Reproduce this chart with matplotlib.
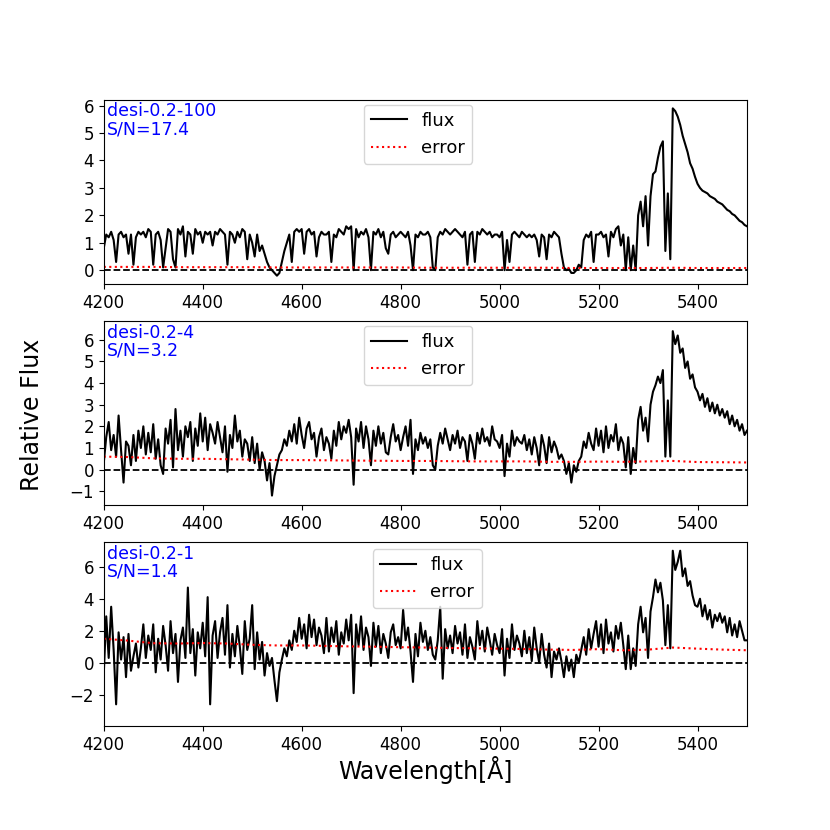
import numpy as np
import matplotlib
matplotlib.use("Agg")
import matplotlib.pyplot as plt
from matplotlib.ticker import MultipleLocator

# wavelength grids (flux sampled every 5 A, error every 50 A)
wave = np.arange(4200, 5501, 5)
wave_err = np.arange(4200, 5501, 50)

labels = ["desi-0.2-100", "desi-0.2-4", "desi-0.2-1"]
snr = ["17.4", "3.2", "1.4"]

flux_100 = [
    0.8, 1.3, 1.2, 1.4, 1.1, 0.3, 1.3, 1.4, 1.2, 1.3,
    0.6, 1.3, 0.2, 1.2, 1.4, 1.3, 1.4, 1.2, 1.5, 1.4,
    0.2, 1.3, 1.4, 1.1, 0.1, 0.8, 1.5, 1.4, 0.4, 0.1,
    1.5, 1.3, 1.6, 0.5, 1.4, 1.3, 0.6, 1.5, 1.3, 1.4,
    1.0, 1.4, 1.3, 1.4, 0.9, 1.4, 1.3, 1.5, 1.4, 1.3,
    0.2, 1.4, 1.3, 1.0, 1.4, 1.2, 1.5, 1.4, 0.4, 1.3,
    1.0, 0.5, 1.3, 0.7, 0.9, 0.6, 0.3, 0.1, 0.0, -0.1,
    -0.2, -0.1, 0.3, 0.7, 1.0, 1.3, 0.3, 1.4, 1.5, 1.4,
    1.5, 0.6, 1.4, 1.5, 1.3, 1.4, 0.5, 1.2, 1.4, 1.3,
    1.3, 1.4, 0.3, 1.3, 1.2, 1.5, 1.4, 1.3, 1.6, 1.5,
    1.6, 0.0, 1.5, 1.2, 1.4, 1.3, 1.5, 1.2, 0.0, 1.4,
    1.3, 1.5, 1.2, 1.4, 0.8, 0.6, 1.3, 1.4, 1.2, 1.3,
    1.4, 1.3, 1.2, 1.4, 0.9, 0.0, 1.3, 1.2, 1.4, 1.3,
    1.3, 1.4, 1.2, 0.1, 0.0, 1.2, 1.4, 1.3, 1.5, 1.4,
    1.3, 1.4, 1.5, 1.4, 1.3, 1.2, 1.4, 0.2, 1.3, 1.4,
    0.3, 1.4, 1.3, 1.5, 1.4, 1.3, 1.4, 1.2, 1.3, 1.3,
    1.2, 1.4, 0.0, 1.1, 0.3, 1.3, 1.4, 1.3, 1.2, 1.4,
    1.3, 1.2, 1.3, 1.2, 1.3, 1.1, 0.5, 1.3, 1.2, 0.4,
    1.3, 1.2, 1.4, 1.3, 1.2, 0.6, 0.1, 0.0, 0.05, -0.1,
    -0.1, 0.0, 0.2, 0.1, 1.1, 1.3, 1.2, 1.4, 0.3, 1.3,
    1.3, 1.4, 1.2, 1.3, 0.5, 1.4, 1.2, 1.5, 1.6, 0.9,
    1.3, 0.0, 1.2, 0.0, 0.9, 0.0, 2.0, 2.5, 1.6, 2.7,
    0.9, 2.7, 3.5, 3.6, 4.1, 4.5, 4.7, 0.7, 2.8, 0.4,
    5.9, 5.8, 5.6, 5.3, 4.9, 4.6, 4.3, 3.9, 3.7, 3.4,
    3.15, 3.0, 2.9, 2.85, 2.8, 2.7, 2.65, 2.6, 2.5, 2.45,
    2.4, 2.3, 2.2, 2.15, 2.05, 2.0, 1.9, 1.8, 1.75, 1.65,
    1.6,
]

flux_4 = [
    0.3, 1.5, 2.2, 0.9, 1.6, 0.6, 2.5, 0.9, -0.6, 1.3,
    1.1, 0.2, 1.6, 0.4, 1.8, 1.0, 2.0, 0.7, 1.7, 0.8,
    2.1, 0.5, 1.4, 0.2, -0.2, 1.9, 1.2, 2.3, 0.1, 2.8,
    0.9, 1.8, 0.6, 2.0, 1.5, 2.2, 0.4, 1.9, 1.1, 2.6,
    1.3, 2.4, 0.9, 2.1, 1.7, 1.2, 2.2, 1.5, 0.8, 2.0,
    -0.1, 1.6, 1.0, 2.5, 1.3, 1.8, 0.6, 1.4, 1.2, 0.4,
    1.5, 0.3, 1.2, 0.0, 0.8, 0.4, -0.5, 0.3, -1.2, -0.3,
    0.2, 0.7, 0.9, 1.4, 1.1, 1.8, 1.3, 2.1, 1.2, 2.4,
    1.6, 1.0, 1.9, 2.2, 1.4, 1.7, 0.6, 1.5, 1.9, 0.9,
    1.5, 1.2, 0.5, 1.8, 1.1, 2.2, 1.4, 2.0, 1.7, 2.3,
    1.5, -0.7, 1.9, 1.3, 2.2, 1.0, 2.0, 1.4, 0.2, 1.8,
    1.1, 2.0, 1.2, 1.7, 0.8, 0.7, 1.5, 2.1, 1.3, 1.6,
    0.9, 1.5, 2.0, 1.1, 2.3, -0.2, 1.4, 0.9, 1.7, 1.2,
    1.5, 1.0, 1.4, 0.2, 0.0, 1.1, 1.7, 1.2, 1.9, 1.4,
    0.9, 1.6, 1.2, 1.8, 1.0, 1.5, 1.3, 0.4, 1.6, 1.2,
    0.5, 1.7, 1.2, 1.9, 1.3, 1.5, 1.1, 2.0, 1.4, 1.3,
    1.0, 1.6, -0.3, 1.2, 0.6, 1.8, 1.1, 1.5, 1.3, 1.2,
    1.6, 0.9, 1.4, 0.7, 1.5, 1.0, 0.2, 1.6, 1.1, 0.3,
    1.5, 0.8, 1.3, 1.0, 0.5, 0.7, 0.4, -0.2, 0.3, -0.6,
    0.2, -0.1, 0.4, 0.6, 1.3, 1.0, 1.7, 1.2, 0.9, 1.9,
    1.1, 1.8, 0.8, 2.0, 1.0, 1.6, 1.3, 2.1, 0.9, 1.5,
    1.2, 0.1, 1.5, -0.2, 1.0, 0.3, 2.3, 2.9, 1.8, 2.4,
    1.3, 3.0, 3.6, 3.9, 4.3, 4.0, 4.6, 0.6, 3.2, 0.6,
    6.4, 5.8, 6.2, 5.4, 5.6, 4.7, 5.0, 4.2, 4.4, 3.8,
    3.6, 3.2, 3.5, 2.9, 3.3, 2.7, 3.1, 2.6, 3.0, 2.5,
    2.8, 2.4, 2.7, 2.1, 2.5, 2.0, 2.3, 1.8, 2.1, 1.6,
    1.8,
]

flux_1 = [
    -0.7, 2.9, 0.3, 3.5, 0.8, -2.6, 1.9, 0.2, 1.6, -0.9,
    1.8, -0.5, 0.4, 1.2, -0.3, 0.9, 2.4, 0.3, 1.7, 0.8,
    2.4, -0.6, 1.5, 0.2, 2.3, 1.1, -0.5, 2.6, 0.6, 1.8,
    -1.2, 1.4, 2.2, 0.3, 4.7, 0.6, 2.1, -0.8, 1.9, 0.9,
    2.5, 0.4, 4.1, -2.6, 1.7, 2.6, 0.3, 1.9, 2.8, 0.5,
    3.6, -0.3, 1.8, 0.4, 2.3, 1.0, -0.7, 2.6, 0.8, 1.5,
    3.6, -0.4, 1.9, 0.2, 1.3, -0.8, 0.6, -0.2, 0.3, -1.1,
    -2.4, -0.6, 0.2, 0.9, 0.4, 1.4, 0.8, 2.0, 1.3, 2.8,
    1.5, 2.4, 0.9, 3.0, 1.6, 2.7, 1.1, 2.2, 1.7, 0.6,
    2.8, 0.7, 2.2, 1.3, 2.6, 0.5, 1.9, 1.2, 2.7, 1.4,
    3.0, -1.9, 2.4, 1.1, 2.9, 0.8, 2.2, 1.6, -0.2, 2.5,
    1.0, 2.3, 0.6, 1.8, 1.2, 0.3, 1.9, 2.4, 1.1, 1.6,
    0.9, 3.3, 1.4, 2.2, 0.7, -1.2, 1.8, 0.4, 2.5, 1.3,
    2.0, 0.8, 1.6, 0.5, 0.2, 1.4, 3.5, -1.0, 2.1, 0.9,
    1.7, 0.6, 2.3, 1.2, 1.9, 0.5, 2.4, 0.3, 1.6, 1.0,
    0.2, 2.6, 1.1, 2.0, 0.7, 2.2, 1.4, 0.5, 1.8, 1.1,
    0.6, 2.1, -0.8, 1.5, 0.3, 2.4, 0.8, 1.7, 1.2, 0.4,
    2.0, 0.6, 1.6, 0.1, 2.2, 0.9, 0.0, 1.8, 0.5, -0.3,
    1.2, -0.9, 0.7, 0.2, 0.9, 0.1, -0.9, 0.4, -0.5, 0.2,
    -0.9, 0.5, 0.0, 0.8, 1.6, 0.5, 2.1, 0.9, 1.8, 2.6,
    1.0, 2.4, 0.6, 2.7, 1.2, 1.9, 0.7, 2.3, 1.5, 2.5,
    1.1, -0.4, 1.7, -0.4, 0.9, -0.2, 2.4, 3.5, 1.9, 2.8,
    0.3, 3.2, 4.1, 5.2, 4.4, 5.0, 3.9, 1.1, 3.6, 0.9,
    7.0, 5.8, 6.3, 7.0, 5.4, 5.9, 4.8, 5.1, 4.2, 3.6,
    3.5, 4.0, 2.9, 3.6, 2.7, 3.3, 2.2, 3.0, 2.6, 3.1,
    2.5, 2.9, 1.9, 2.8, 1.7, 2.4, 1.6, 2.6, 2.0, 1.4,
    1.4,
]

err_100 = [0.12, 0.12, 0.12, 0.11, 0.11, 0.11, 0.11, 0.10, 0.10, 0.10,
           0.10, 0.10, 0.10, 0.09, 0.09, 0.09, 0.09, 0.09, 0.09, 0.08,
           0.08, 0.08, 0.08, 0.09, 0.08, 0.08, 0.08]
err_4 = [0.60, 0.58, 0.52, 0.50, 0.50, 0.48, 0.46, 0.44, 0.44, 0.43,
         0.42, 0.41, 0.40, 0.40, 0.39, 0.38, 0.38, 0.38, 0.36, 0.36,
         0.37, 0.36, 0.38, 0.40, 0.35, 0.34, 0.33]
err_1 = [1.50, 1.38, 1.22, 1.20, 1.23, 1.20, 1.12, 1.08, 1.08, 1.05,
         1.02, 1.00, 0.97, 0.95, 0.92, 0.90, 0.88, 0.86, 0.82, 0.80,
         0.85, 0.78, 0.82, 0.95, 0.88, 0.82, 0.78]

fluxes = [flux_100, flux_4, flux_1]
errors = [err_100, err_4, err_1]
ylims = [(-0.5, 6.22), (-1.64, 6.88), (-3.97, 7.55)]
ystep = [1, 1, 2]
legend_anchor = [(0.404, 0.973), (0.404, 0.973), (0.418, 0.962)]

fig, axes = plt.subplots(3, 1, figsize=(8.3, 8.3), dpi=100)
fig.subplots_adjust(left=0.125, right=0.9, top=0.88, bottom=0.125, hspace=0.2)

for i, ax in enumerate(axes):
    ax.plot(wave, fluxes[i], color="k", lw=1.5, label="flux")
    ax.plot(wave_err, errors[i], color="red", ls=":", lw=1.5, label="error")
    ax.axhline(0, color="k", ls="--", lw=1.3)
    ax.set_xlim(4200, 5500)
    ax.set_ylim(*ylims[i])
    ax.yaxis.set_major_locator(MultipleLocator(ystep[i]))
    ax.tick_params(labelsize=12)
    ax.text(0.005, 0.985, f"{labels[i]}\nS/N={snr[i]}", transform=ax.transAxes,
            va="top", ha="left", color="blue", fontsize=12.5, linespacing=1.0)
    ax.legend(loc="upper left", bbox_to_anchor=legend_anchor[i],
              borderaxespad=0, fontsize=13)

fig.text(0.038, 0.5, "Relative Flux", rotation=90, va="center", ha="center", fontsize=17)
fig.text(0.512, 0.072, "Wavelength[Å]", va="center", ha="center", fontsize=17)

fig.savefig("out.png", dpi=100)
